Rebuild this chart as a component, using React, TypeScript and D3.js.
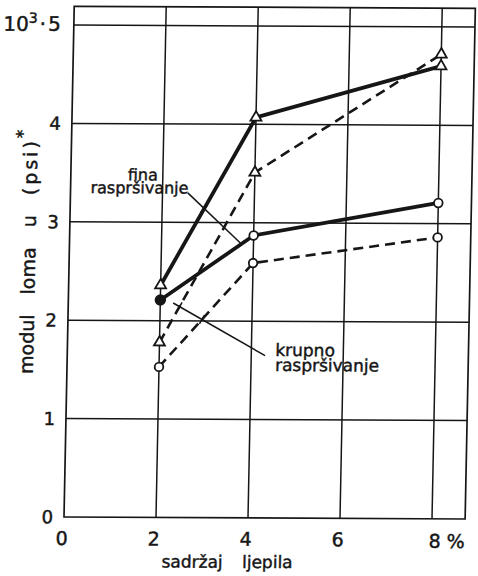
import React from 'react';
import * as d3 from 'd3';

// adhesive content, %
const percent = [2, 4, 8];
// modulus of rupture, 10^3 psi
const fineTriangle = [2.36, 4.07, 4.6];
const fineCircle = [2.21, 2.87, 3.21];
const coarseTriangle = [1.78, 3.51, 4.72];
const coarseCircle = [1.53, 2.59, 2.86];

const xGrid = [2, 4, 6, 8];
const xTickValues = [0, 2, 4, 6];
const xTickLabels = ['0', '2', '4', '6'];
const yGrid = [1, 2, 3, 4, 5];
const yTickValues = [0, 1, 2, 3, 4];
const yTickLabels = ['0', '1', '2', '3', '4'];

const INK = '#161616';
const FONT = '"DejaVu Sans", sans-serif';
// slightly heavier lettering
const TEXT_STROKE = { stroke: INK, strokeWidth: 0.45 };

const x = d3.scaleLinear().domain([0, 8]).range([64, 432]);
const y = d3.scaleLinear().domain([0, 5]).range([517, 25]);
const xMax = 8.72;
const yMax = 5.19;

type Pt = [number, number];

const series = [
  { values: fineTriangle, dashed: false, marker: 'triangle', filledFirst: false },
  { values: coarseTriangle, dashed: true, marker: 'triangle', filledFirst: false },
  { values: fineCircle, dashed: false, marker: 'circle', filledFirst: true },
  { values: coarseCircle, dashed: true, marker: 'circle', filledFirst: false },
];

const leaders = [
  { from: [2.55, 3.3] as Pt, to: [3.72, 2.79] as Pt, crosses: [fineTriangle, fineCircle] },
  { from: [4.3, 1.65] as Pt, to: [2.28, 2.18] as Pt, crosses: [coarseCircle, coarseTriangle] },
];

function intersect(a: Pt, b: Pt, c: Pt, d: Pt): Pt | null {
  const r: Pt = [b[0] - a[0], b[1] - a[1]];
  const s: Pt = [d[0] - c[0], d[1] - c[1]];
  const den = r[0] * s[1] - r[1] * s[0];
  if (Math.abs(den) < 1e-9) return null;
  const t = ((c[0] - a[0]) * s[1] - (c[1] - a[1]) * s[0]) / den;
  const u = ((c[0] - a[0]) * r[1] - (c[1] - a[1]) * r[0]) / den;
  if (t < -0.02 || t > 1.06 || u < 0 || u > 1) return null;
  return [a[0] + t * r[0], a[1] + t * r[1]];
}

const lineGen = d3
  .line<number>()
  .x((_, i) => x(percent[i]))
  .y((v) => y(v));

const triangle = d3.symbol().type(d3.symbolTriangle).size(52)();

export default function App() {
  const leaderMarks = leaders.map((ld, li) => {
    const a: Pt = [x(ld.from[0]), y(ld.from[1])];
    const b: Pt = [x(ld.to[0]), y(ld.to[1])];
    const len = Math.hypot(b[0] - a[0], b[1] - a[1]);
    const nx = -(b[1] - a[1]) / len;
    const ny = (b[0] - a[0]) / len;
    const ticks: Pt[] = [];
    ld.crosses.forEach((vals) => {
      for (let i = 0; i < vals.length - 1; i++) {
        const p = intersect(a, b, [x(percent[i]), y(vals[i])], [x(percent[i + 1]), y(vals[i + 1])]);
        if (p) ticks.push(p);
      }
    });
    return (
      <g key={li} stroke={INK} strokeWidth={1.5}>
        <line x1={a[0]} y1={a[1]} x2={b[0]} y2={b[1]} />
        {ticks.map((p, k) => (
          <line key={k} x1={p[0] - nx * 5} y1={p[1] - ny * 5} x2={p[0] + nx * 5} y2={p[1] + ny * 5} />
        ))}
      </g>
    );
  });

  return (
    <svg
      width={478}
      height={576}
      style={{ position: 'absolute', left: 0, top: 0, background: '#fff' }}
      fontFamily={FONT}
    >
      <rect width={478} height={576} fill="#fff" />
      <g transform="matrix(1,0.005,-0.02,1,10.34,-0.32)">
        {/* frame */}
        <rect
          x={x(0)}
          y={y(yMax)}
          width={x(xMax) - x(0)}
          height={y(0) - y(yMax)}
          fill="none"
          stroke={INK}
          strokeWidth={1.7}
        />
        {/* grid */}
        {xGrid.map((v) => (
          <line key={'gx' + v} x1={x(v)} x2={x(v)} y1={y(0)} y2={y(yMax)} stroke={INK} strokeWidth={1.5} />
        ))}
        {yGrid.map((v) => (
          <line key={'gy' + v} x1={x(0)} x2={x(xMax)} y1={y(v)} y2={y(v)} stroke={INK} strokeWidth={1.5} />
        ))}

        <g fill={INK} {...TEXT_STROKE}>
          {/* y tick labels */}
          {yTickValues.map((v, i) => (
            <text key={'yt' + v} x={53} y={y(v)} dy="0.36em" textAnchor="end" fontSize={18}>
              {yTickLabels[i]}
            </text>
          ))}
          <text x={51} y={y(5)} dy="0.3em" textAnchor="end" fontSize={20}>
            <tspan>10</tspan>
            <tspan dy={-8} fontSize={14}>3</tspan>
            <tspan dy={8} dx={2}>·</tspan>
            <tspan dx={2}>5</tspan>
          </text>

          {/* x tick labels */}
          {xTickValues.map((v, i) => (
            <text key={'xt' + v} x={x(v) - 2} y={545} textAnchor="middle" fontSize={19}>
              {xTickLabels[i]}
            </text>
          ))}
          <text x={x(8) - 3} y={546} textAnchor="start" fontSize={19}>
            8 %
          </text>

          {/* axis titles */}
          <text x={228} y={567} textAnchor="middle" fontSize={17} wordSpacing={14}>
            sadržaj ljepila
          </text>
          <text transform="translate(30,252) rotate(-90)" textAnchor="middle" fontSize={19} wordSpacing={14}>
            <tspan>modul loma u </tspan>
            <tspan letterSpacing={3}>(psi)</tspan>
            <tspan dy={-9} fontSize={17}>*</tspan>
          </text>
        </g>

        {/* series lines */}
        {series.map((s, i) => (
          <path
            key={'l' + i}
            d={lineGen(s.values) || ''}
            fill="none"
            stroke={INK}
            strokeWidth={s.dashed ? 2.6 : 3.8}
            strokeDasharray={s.dashed ? '10 6' : undefined}
            strokeLinejoin="round"
          />
        ))}

        {/* markers */}
        {series.map((s, i) =>
          s.values.map((v, j) =>
            s.marker === 'triangle' ? (
              <path
                key={'m' + i + '-' + j}
                d={triangle || ''}
                transform={`translate(${x(percent[j])},${y(v)})`}
                fill="#fff"
                stroke={INK}
                strokeWidth={1.8}
              />
            ) : (
              <circle
                key={'m' + i + '-' + j}
                cx={x(percent[j])}
                cy={y(v)}
                r={s.filledFirst && j === 0 ? 4.8 : 4.3}
                fill={s.filledFirst && j === 0 ? INK : '#fff'}
                stroke={INK}
                strokeWidth={1.8}
              />
            )
          )
        )}

        {/* annotations */}
        {leaderMarks}
        <g fill={INK} {...TEXT_STROKE}>
          <text fontSize={16}>
            <tspan x={121} y={180}>fina</tspan>
            <tspan x={84} y={193}>raspršivanje</tspan>
          </text>
          <text fontSize={17}>
            <tspan x={272} y={355}>krupno</tspan>
            <tspan x={272} y={370}>raspršivanje</tspan>
          </text>
        </g>
      </g>
    </svg>
  );
}
